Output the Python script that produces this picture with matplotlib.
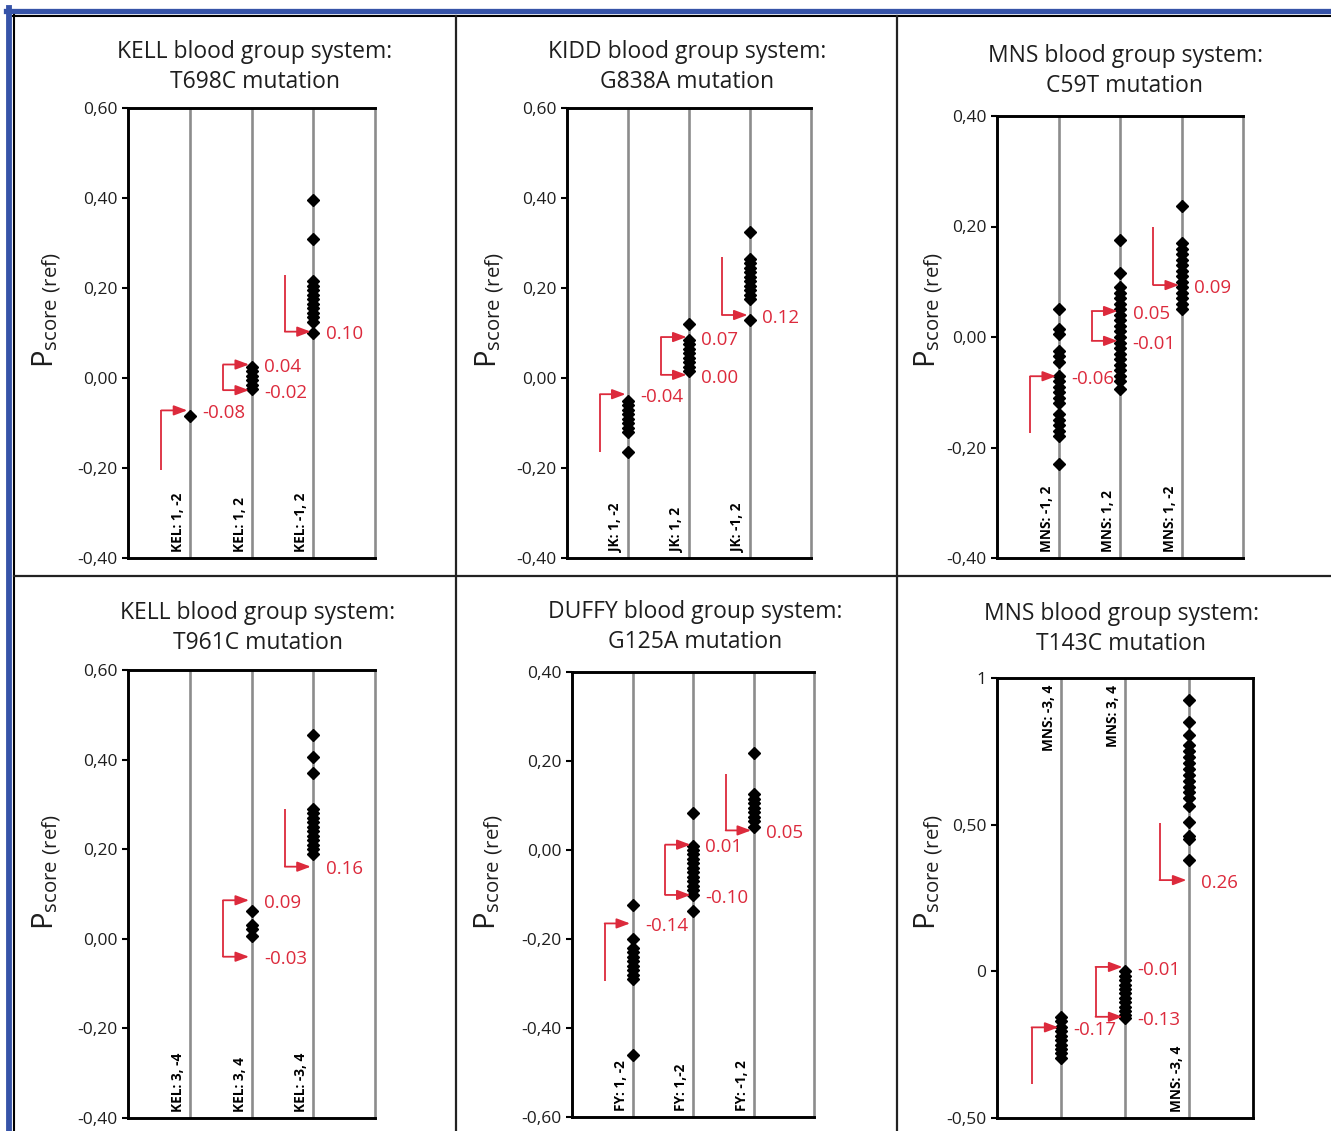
import matplotlib
matplotlib.use("Agg")
import matplotlib.pyplot as plt
import numpy as np
from matplotlib.lines import Line2D

plt.rcParams["font.family"] = ["Open Sans", "DejaVu Sans"]
plt.rcParams["mathtext.fontset"] = "custom"
plt.rcParams["mathtext.rm"] = "Open Sans"

W, H = 1331, 1131
RED = "#dc2a3c"
GRID = "#8c8c8c"
BLUE = "#3653a8"

# ── data ─────────────────────────────────────────────────────
# KELL T698C
kel1_title = "KELL blood group system:\nT698C mutation"
kel1_cats = ["KEL: 1, -2", "KEL: 1, 2", "KEL: -1, 2"]
kel1_vals = [
    [-0.085],
    [0.025, 0.015, 0.005, -0.005, -0.015, -0.025],
    [0.395, 0.31, 0.215, 0.205, 0.195, 0.185, 0.175, 0.165, 0.155, 0.145,
     0.135, 0.125, 0.10],
]
kel1_arrows = [[-0.072], [0.030, -0.027], [0.103]]
kel1_labels = [["-0.08"], ["0.04", "-0.02"], ["0.10"]]
kel1_tails = [-0.204, None, 0.23]

# KIDD G838A
kidd_title = "KIDD blood group system:\nG838A mutation"
kidd_cats = ["JK: 1, -2", "JK: 1, 2", "JK: -1, 2"]
kidd_vals = [
    [-0.052, -0.06, -0.07, -0.08, -0.09, -0.10, -0.11, -0.12, -0.165],
    [0.12, 0.084, 0.075, 0.065, 0.055, 0.045, 0.035, 0.025, 0.015],
    [0.324, 0.265, 0.255, 0.245, 0.235, 0.225, 0.215, 0.205, 0.195, 0.185,
     0.175, 0.129],
]
kidd_arrows = [[-0.036], [0.091, 0.007], [0.14]]
kidd_labels = [["-0.04"], ["0.07", "0.00"], ["0.12"]]
kidd_tails = [-0.164, None, 0.27]

# MNS C59T
mns1_title = "MNS blood group system:\nC59T mutation"
mns1_cats = ["MNS: -1, 2", "MNS: 1, 2", "MNS: 1, -2"]
mns1_vals = [
    [0.05, 0.015, 0.005, -0.025, -0.035, -0.045, -0.07, -0.08, -0.09, -0.10,
     -0.11, -0.12, -0.14, -0.15, -0.16, -0.17, -0.18, -0.23],
    [0.175, 0.116, 0.09, 0.08, 0.07, 0.06, 0.05, 0.04, 0.03, 0.02, 0.01, 0.0,
     -0.01, -0.02, -0.03, -0.04, -0.05, -0.06, -0.07, -0.08, -0.095],
    [0.237, 0.17, 0.16, 0.15, 0.14, 0.13, 0.12, 0.11, 0.10, 0.09, 0.08, 0.07,
     0.06, 0.05],
]
mns1_arrows = [[-0.071], [0.047, -0.007], [0.094]]
mns1_labels = [["-0.06"], ["0.05", "-0.01"], ["0.09"]]
mns1_tails = [-0.173, None, 0.20]

# KELL T961C
kel2_title = "KELL blood group system:\nT961C mutation"
kel2_cats = ["KEL: 3, -4", "KEL: 3, 4", "KEL: -3, 4"]
kel2_vals = [
    [],
    [0.062, 0.03, 0.022, 0.006],
    [0.454, 0.405, 0.369, 0.29, 0.28, 0.27, 0.26, 0.25, 0.24, 0.23, 0.22,
     0.21, 0.20, 0.19],
]
kel2_arrows = [[], [0.086, -0.04], [0.161]]
kel2_labels = [[], ["0.09", "-0.03"], ["0.16"]]
kel2_tails = [None, None, 0.289]

# DUFFY G125A
fy_title = "DUFFY blood group system:\nG125A mutation"
fy_cats = ["FY: 1, -2", "FY: 1,-2", "FY: -1, 2"]
fy_vals = [
    [-0.124, -0.199, -0.22, -0.23, -0.24, -0.25, -0.26, -0.27, -0.28, -0.29,
     -0.461],
    [0.084, 0.009, 0.0, -0.01, -0.02, -0.03, -0.04, -0.05, -0.06, -0.07,
     -0.08, -0.09, -0.10, -0.137],
    [0.219, 0.126, 0.115, 0.105, 0.095, 0.085, 0.075, 0.065, 0.052],
]
fy_arrows = [[-0.165], [0.012, -0.101], [0.044]]
fy_labels = [["-0.14"], ["0.01", "-0.10"], ["0.05"]]
fy_tails = [-0.294, None, 0.171]

# MNS T143C
mns2_title = "MNS blood group system:\nT143C mutation"
mns2_cats = ["MNS: -3, 4", "MNS: 3, 4", "MNS: -3, 4"]
mns2_vals = [
    [-0.155, -0.17, -0.19, -0.205, -0.22, -0.235, -0.25, -0.265, -0.28,
     -0.295],
    [0.0, -0.015, -0.03, -0.045, -0.06, -0.075, -0.09, -0.105, -0.12, -0.135,
     -0.15, -0.16],
    [0.925, 0.849, 0.807, 0.77, 0.75, 0.73, 0.71, 0.69, 0.67, 0.65, 0.63,
     0.61, 0.59, 0.565, 0.508, 0.462, 0.45, 0.378],
]
mns2_arrows = [[-0.191], [0.015, -0.155], [0.311]]
mns2_labels = [["-0.17"], ["-0.01", "-0.13"], ["0.26"]]
mns2_tails = [-0.385, None, 0.505]

ticks_a = [0.6, 0.4, 0.2, 0.0, -0.2, -0.4]
ticklabels_a = ["0,60", "0,40", "0,20", "0,00", "-0,20", "-0,40"]
ticks_c = [0.4, 0.2, 0.0, -0.2, -0.4]
ticklabels_c = ["0,40", "0,20", "0,00", "-0,20", "-0,40"]
ticks_e = [0.4, 0.2, 0.0, -0.2, -0.4, -0.6]
ticklabels_e = ["0,40", "0,20", "0,00", "-0,20", "-0,40", "-0,60"]
ticks_f = [1.0, 0.5, 0.0, -0.5]
ticklabels_f = ["1", "0,50", "0", "-0,50"]


def fx(px):
    return px / W


def fy(py):
    return 1 - py / H


def panel(fig, box, title, title_xy, ylab_xy, cats, vals, arrows, labels,
          tails, ylim, ticks, ticklabels, top_labels=(), right_black=False):
    x0, y0, x1, y1 = box
    ax = fig.add_axes([fx(x0), fy(y1), fx(x1 - x0), (y1 - y0) / H])
    ax.set_xlim(0, 4)
    ax.set_ylim(*ylim)
    for c in (1, 2, 3):
        ax.axvline(c, color=GRID, lw=1.9, zorder=1)
    for s in ("left", "top", "bottom"):
        ax.spines[s].set_linewidth(2.1)
        ax.spines[s].set_color("black")
    ax.spines["right"].set_linewidth(2.0 if right_black else 1.9)
    ax.spines["right"].set_color("black" if right_black else GRID)
    ax.set_xticks([])
    ax.set_yticks(ticks)
    ax.set_yticklabels(ticklabels, fontsize=12.5, color="#1e1e1e")
    ax.tick_params(axis="y", direction="out", length=4.5, width=1.5, pad=3)

    for i, (cat, v) in enumerate(zip(cats, vals)):
        c = i + 1
        if v:
            ax.plot(np.full(len(v), c), v, "D", ms=6.2, color="black",
                    mec="black", zorder=3, clip_on=False)
        if i in top_labels:
            ax.annotate(cat, xy=(c, ylim[1]), xytext=(-3.5, -5),
                        textcoords="offset points", rotation=90, ha="right",
                        va="top", fontsize=9.8, fontweight="bold")
        else:
            ax.annotate(cat, xy=(c, ylim[0]), xytext=(-3.5, 4),
                        textcoords="offset points", rotation=90, ha="right",
                        va="bottom", fontsize=9.8, fontweight="bold")

        ys = arrows[i]
        if not ys:
            continue
        xv = c - 0.46
        if tails[i] is not None:
            ax.plot([xv, xv], [tails[i], ys[0]], color=RED, lw=1.3, zorder=4,
                    solid_capstyle="butt")
        else:
            ax.plot([xv, xv], [ys[0], ys[-1]], color=RED, lw=1.3, zorder=4,
                    solid_capstyle="butt")
        for yv, lab in zip(ys, labels[i]):
            ax.annotate("", xy=(c - 0.04, yv), xytext=(xv, yv),
                        arrowprops=dict(arrowstyle="-|>,head_length=0.8,head_width=0.3",
                                        color=RED, lw=1.3, shrinkA=0, shrinkB=0),
                        zorder=4)
            ax.annotate(lab, xy=(c, yv), xytext=(9, -2),
                        textcoords="offset points", ha="left", va="center",
                        fontsize=13.5, color=RED)

    fig.text(fx(title_xy[0]), fy(title_xy[1]), title, ha="center",
             va="center", fontsize=16.5, linespacing=1.33, color="#1e1e1e")
    fig.text(fx(ylab_xy[0]), fy(ylab_xy[1]),
             r"P$_{\mathregular{score\ (ref)}}$", rotation=90, ha="center",
             va="center", fontsize=21, color="#1e1e1e")
    return ax


fig = plt.figure(figsize=(W / 100, H / 100), dpi=100)

panel(fig, (128, 108, 375, 558), kel1_title, (255, 67), (47, 310),
      kel1_cats, kel1_vals, kel1_arrows, kel1_labels, kel1_tails,
      (-0.4, 0.6), ticks_a, ticklabels_a)
panel(fig, (567, 108, 811, 558), kidd_title, (687, 67), (490, 310),
      kidd_cats, kidd_vals, kidd_arrows, kidd_labels, kidd_tails,
      (-0.4, 0.6), ticks_a, ticklabels_a)
panel(fig, (997, 116, 1243, 558), mns1_title, (1125, 71), (929, 310),
      mns1_cats, mns1_vals, mns1_arrows, mns1_labels, mns1_tails,
      (-0.4, 0.4), ticks_c, ticklabels_c)
panel(fig, (128, 670, 375, 1118), kel2_title, (258, 628), (47, 872),
      kel2_cats, kel2_vals, kel2_arrows, kel2_labels, kel2_tails,
      (-0.4, 0.6), ticks_a, ticklabels_a)
panel(fig, (572, 672, 814, 1117), fy_title, (695, 627), (489, 872),
      fy_cats, fy_vals, fy_arrows, fy_labels, fy_tails,
      (-0.6, 0.4), ticks_e, ticklabels_e)
panel(fig, (997, 678, 1253, 1118), mns2_title, (1121, 629), (929, 872),
      mns2_cats, mns2_vals, mns2_arrows, mns2_labels, mns2_tails,
      (-0.5, 1.0), ticks_f, ticklabels_f, top_labels=(0, 1), right_black=True)


# frame: blue outer border, black panel grid
def hline(y, x0, x1, color, lw):
    fig.add_artist(Line2D([fx(x0), fx(x1)], [fy(y), fy(y)], color=color,
                          lw=lw, transform=fig.transFigure))


def vline(x, y0, y1, color, lw):
    fig.add_artist(Line2D([fx(x), fx(x)], [fy(y0), fy(y1)], color=color,
                          lw=lw, transform=fig.transFigure))


hline(10.5, 6, W, BLUE, 3.8)
vline(8.5, 8, H, BLUE, 4.2)
hline(16, 13, W, "black", 1.5)
vline(14, 15, H, "black", 1.5)
hline(576, 14, W, "#222222", 1.6)
vline(456, 16, H, "#222222", 1.6)
vline(897, 16, H, "#222222", 1.6)

fig.savefig("out.png", dpi=100)
